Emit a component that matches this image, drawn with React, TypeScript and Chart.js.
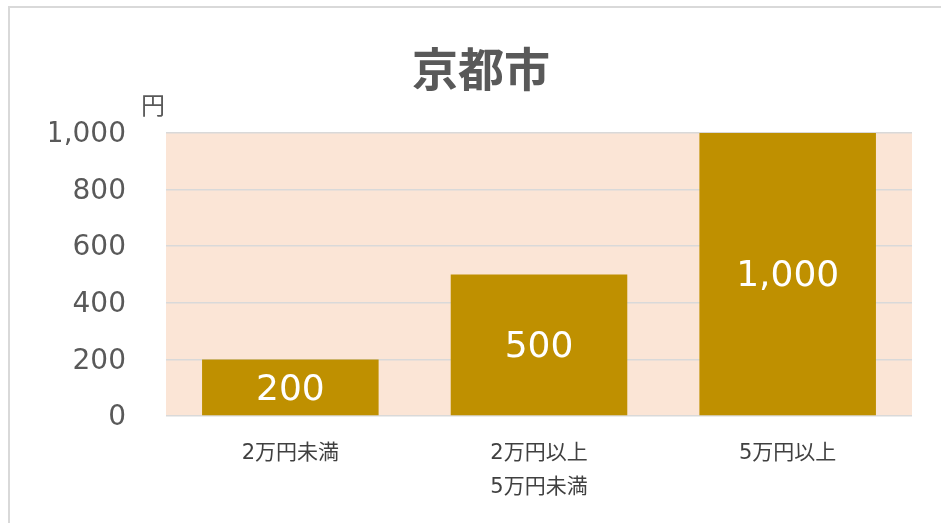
import React, { useEffect, useRef } from "react";
import { Chart, registerables } from "chart.js";

Chart.register(...registerables);

const titleText = "京都市";
const unitLabel = "円";
const categories: (string | string[])[] = ["2万円未満", ["2万円以上", "5万円未満"], "5万円以上"];
const values = [200, 500, 1000];
const yTicks = [0, 200, 400, 600, 800, 1000];

const FONT = "'DejaVu Sans', 'Noto Sans CJK JP', sans-serif";

const fmt = (v: number) => v.toLocaleString("en-US");

const bgPlugin = {
  id: "plotBg",
  beforeDraw(chart: any) {
    const { ctx, chartArea } = chart;
    ctx.save();
    ctx.fillStyle = "#FBE5D6";
    ctx.fillRect(chartArea.left, chartArea.top, chartArea.right - chartArea.left, chartArea.bottom - chartArea.top);
    ctx.restore();
  },
};

const labelPlugin = {
  id: "barLabels",
  afterDatasetsDraw(chart: any) {
    const { ctx } = chart;
    const meta = chart.getDatasetMeta(0);
    ctx.save();
    ctx.fillStyle = "#FFFFFF";
    ctx.font = `36px ${FONT}`;
    ctx.textAlign = "center";
    ctx.textBaseline = "middle";
    meta.data.forEach((bar: any, i: number) => {
      const v = chart.data.datasets[0].data[i];
      ctx.fillText(fmt(v), bar.x, (bar.y + bar.base) / 2 + 3);
    });
    ctx.restore();
  },
};

const unitPlugin = {
  id: "unitLabel",
  afterDraw(chart: any) {
    const { ctx, chartArea } = chart;
    ctx.save();
    ctx.fillStyle = "#595959";
    ctx.font = `24px ${FONT}`;
    ctx.textAlign = "center";
    ctx.textBaseline = "middle";
    ctx.fillText(unitLabel, chartArea.left - 13, chartArea.top - 25);
    ctx.restore();
  },
};

export default function App() {
  const ref = useRef<HTMLCanvasElement | null>(null);

  useEffect(() => {
    if (!ref.current) return;
    const chart = new Chart(ref.current, {
      type: "bar",
      data: {
        labels: categories,
        datasets: [
          {
            data: values,
            backgroundColor: "#BF9000",
            borderWidth: 0,
            categoryPercentage: 1,
            barPercentage: 0.71,
          },
        ],
      },
      options: {
        animation: false,
        responsive: false,
        devicePixelRatio: 1,
        locale: "en-US",
        layout: { padding: { left: 50, right: 29, top: 0, bottom: 0 } },
        plugins: {
          legend: { display: false },
          tooltip: { enabled: false },
          title: {
            display: true,
            text: titleText,
            color: "#595959",
            font: { family: FONT, size: 46, weight: "bold", lineHeight: 1 },
            padding: { top: 51, bottom: 36 },
          },
        },
        scales: {
          x: {
            grid: { display: false, drawTicks: false },
            border: { display: false },
            ticks: {
              color: "#404040",
              font: { family: FONT, size: 21, lineHeight: 1.6 },
              padding: 21,
              maxRotation: 0,
              autoSkip: false,
            },
            afterFit(scale: any) {
              scale.height = 107;
            },
          },
          y: {
            min: 0,
            max: 1000,
            afterBuildTicks(scale: any) {
              scale.ticks = yTicks.map((v) => ({ value: v }));
            },
            grid: { color: "#D9D9D9", lineWidth: 1.5, drawTicks: false },
            border: { display: false },
            ticks: {
              color: "#595959",
              font: { family: FONT, size: 28 },
              padding: 40,
              labelOffset: 2,
              callback: (v: any) => fmt(Number(v)),
            },
            afterFit(scale: any) {
              scale.width = 116;
            },
          },
        },
      },
      plugins: [bgPlugin, labelPlugin, unitPlugin],
    } as any);
    return () => chart.destroy();
  }, []);

  return (
    <div
      style={{
        position: "fixed",
        left: 0,
        top: 0,
        width: 941,
        height: 523,
        overflow: "hidden",
        background: "#FFFFFF",
      }}
    >
      <div
        style={{
          position: "absolute",
          left: 8,
          top: 6,
          width: 1000,
          height: 600,
          border: "2px solid #D9D9D9",
          boxSizing: "border-box",
        }}
      />
      <canvas ref={ref} width={941} height={523} style={{ position: "absolute", left: 0, top: 0 }} />
    </div>
  );
}
